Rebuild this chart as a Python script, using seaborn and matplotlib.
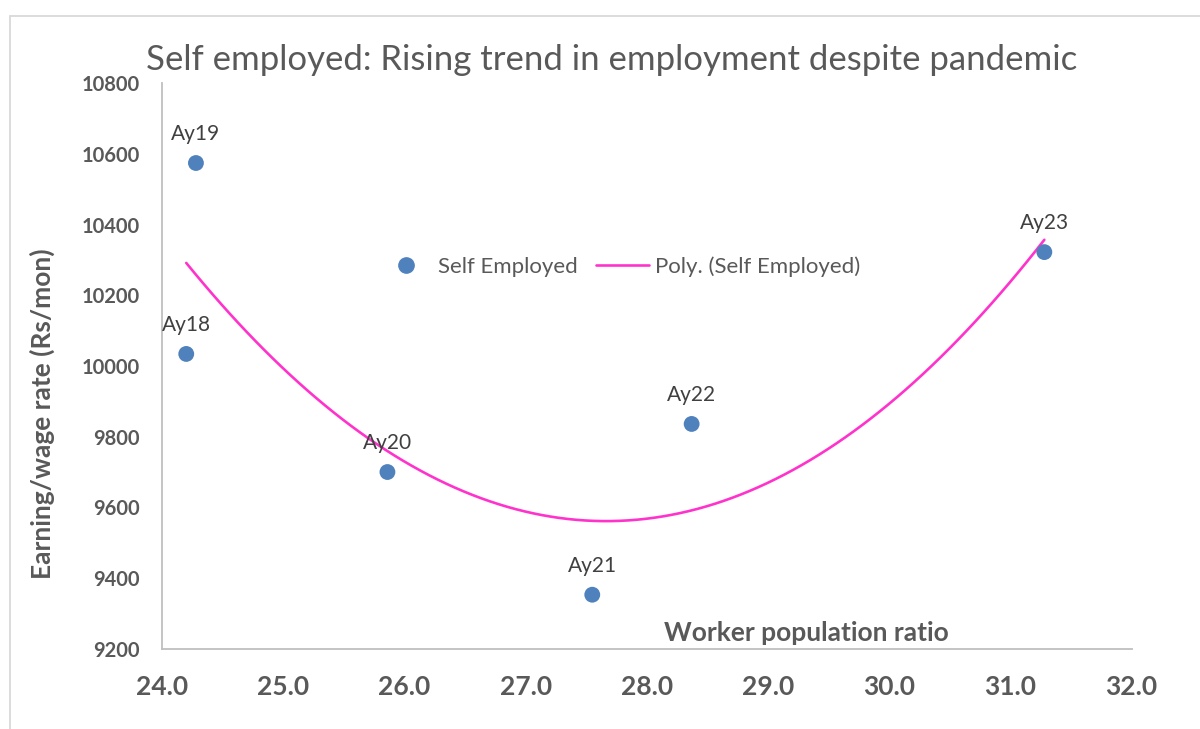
import matplotlib
matplotlib.use("Agg")
import matplotlib.pyplot as plt
import pandas as pd
import seaborn as sns
from matplotlib.lines import Line2D
from matplotlib.patches import Rectangle

years = ["Ay18", "Ay19", "Ay20", "Ay21", "Ay22", "Ay23"]
worker_ratio = [24.20, 24.28, 25.86, 27.55, 28.37, 31.28]
earning = [10034, 10574, 9700, 9353, 9836, 10322]

df = pd.DataFrame({"year": years, "wpr": worker_ratio, "earning": earning})

sns.set_theme(style="white")
plt.rcParams["font.family"] = ["Lato", "DejaVu Sans"]

grey = "#595959"
dot_color = "#4F81BD"
trend_color = "#FF33CC"

fig = plt.figure(figsize=(12, 7.29), dpi=100)
ax = fig.add_axes([0.135, 0.110, 0.808, 0.776])

sns.regplot(
    data=df, x="wpr", y="earning", order=2, ci=None, truncate=True, ax=ax,
    scatter_kws={"s": 130, "color": dot_color, "edgecolor": "none", "alpha": 1, "zorder": 3},
    line_kws={"color": trend_color, "lw": 1.9, "zorder": 2},
)

for _, row in df.iterrows():
    ax.annotate(row["year"], (row["wpr"], row["earning"]), xytext=(0, 21),
                textcoords="offset points", ha="center", va="center",
                fontsize=15, color="#404040")

ax.set_xlim(24, 32)
ax.set_ylim(9200, 10800)
ax.set_xticks([24, 25, 26, 27, 28, 29, 30, 31, 32])
ax.set_xticklabels([f"{v:.1f}" for v in ax.get_xticks()])
ax.set_yticks(range(9200, 10801, 200))
ax.tick_params(axis="x", pad=19, labelsize=19, labelcolor=grey, length=0)
ax.tick_params(axis="y", pad=16, labelsize=14.5, labelcolor=grey, length=0)
for lab in ax.get_xticklabels() + ax.get_yticklabels():
    lab.set_fontweight("bold")

for side in ["top", "right"]:
    ax.spines[side].set_visible(False)
for side in ["left", "bottom"]:
    ax.spines[side].set_color("#BFBFBF")
    ax.spines[side].set_linewidth(1.3)

ax.set_xlabel("")
ax.set_ylabel("")
ax.text(0.665, 0.028, "Worker population ratio", transform=ax.transAxes,
        ha="center", va="center", fontsize=19, fontweight="bold", color=grey)
fig.text(0.035, 0.432, "Earning/wage rate (Rs/mon)", rotation=90, ha="center", va="center",
         fontsize=19, fontweight="bold", color=grey)
fig.text(0.51, 0.918, "Self employed: Rising trend in employment despite pandemic",
         ha="center", va="center", fontsize=25, color=grey)

handles = [
    Line2D([], [], marker="o", ls="none", color=dot_color, markersize=11),
    Line2D([], [], color=trend_color, lw=1.9),
]
ax.legend(handles, ["Self Employed", "Poly. (Self Employed)"], loc="center",
          bbox_to_anchor=(0.472, 0.675), ncol=2, frameon=False,
          fontsize=16, labelcolor=grey, handlelength=2.4, handletextpad=0.27,
          columnspacing=0.8)

fig.patches.append(Rectangle((10 / 1200, -0.05), 1.2, 1 - 16 / 729 + 0.05, transform=fig.transFigure,
                             fill=False, edgecolor="#D9D9D9", lw=1.3))

fig.savefig("out.png", dpi=100)
